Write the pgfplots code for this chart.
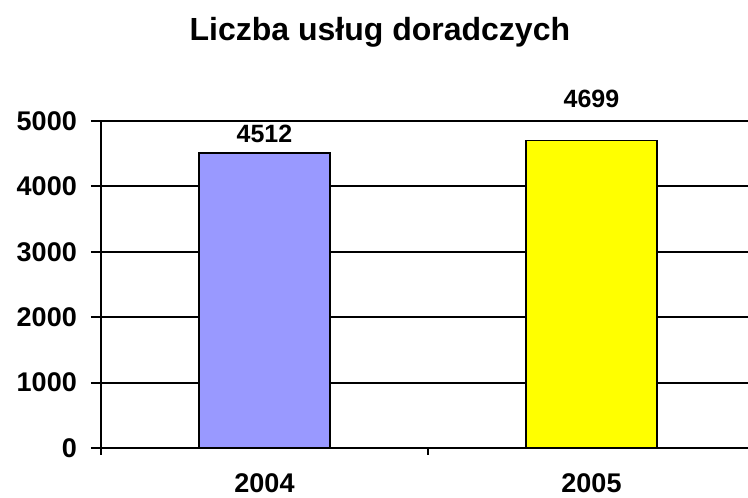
\documentclass[border=0pt]{standalone}
\usepackage{fontspec}
\setmainfont{Liberation Sans}
\usepackage{pgfplots}
\pgfplotsset{compat=1.18}
\definecolor{barlila}{HTML}{9999FF}
\definecolor{baryel}{HTML}{FFFF00}

\begin{document}
\begin{tikzpicture}
\begin{axis}[
  at={(0pt,0pt)},anchor=south west,
  scale only axis,width=647pt,height=327pt,
  ybar,bar width=0.4,bar shift=0pt,
  xmin=-0.5,xmax=1.4786,ymin=0,ymax=5000,
  axis x line=bottom,axis y line=left,
  axis line style={-,line width=2pt,black},
  clip=false,
  xtick={0,1},xticklabels={2004,2005},
  major x tick style={draw=none},
  minor xtick={-0.5,0.5},
  minor tick length=7pt,
  ytick={0,1000,2000,3000,4000,5000},
  major tick length=10pt,
  tick align=outside,
  tick style={line width=2pt,black},
  ymajorgrids,grid style={line width=2pt,black},
  /pgf/number format/1000 sep={},
  /pgf/number format/assume math mode=true,
  ticklabel style={font=\fontsize{27}{32}\selectfont\bfseries,inner sep=0pt},
  yticklabel style={anchor=east,xshift=-14pt},
  xticklabel style={anchor=north,yshift=-15pt},
  title={Liczba usług doradczych},
  title style={at={(0.431,1.254)},anchor=center,font=\fontsize{32}{38}\selectfont\bfseries},
  nodes near coords,
  every node near coord/.append style={font=\fontsize{25}{30}\selectfont\bfseries,inner sep=0pt,anchor=south},
]
\addplot[fill=barlila,draw=black,line width=1.6pt,every node near coord/.append style={yshift=9pt}] coordinates {(0,4512)};
\addplot[fill=baryel,draw=black,line width=1.6pt,every node near coord/.append style={yshift=32pt}] coordinates {(1,4699)};
\end{axis}
\pgfresetboundingbox
\useasboundingbox (-101pt,-50pt) rectangle (647pt,448pt);
\end{tikzpicture}
\end{document}
